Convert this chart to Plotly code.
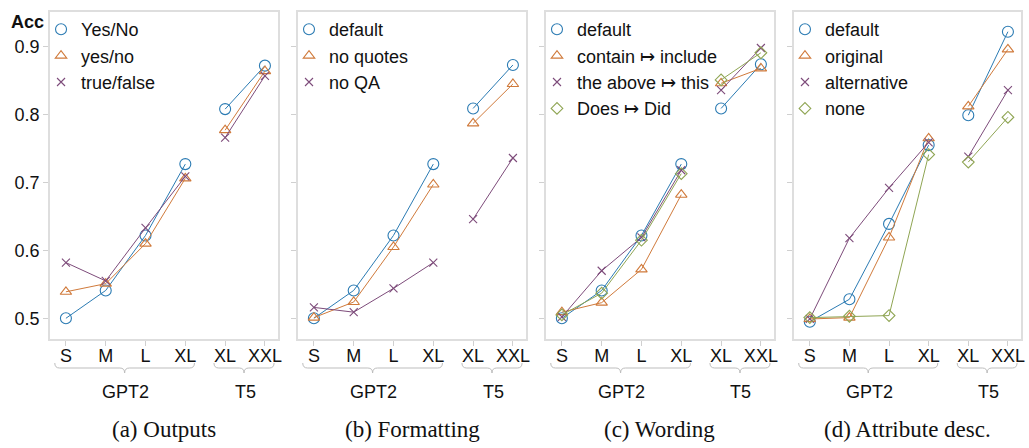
import plotly.graph_objects as go

sizes = ["S", "M", "L", "XL", "XL", "XXL"]
groups = ["GPT2", "GPT2", "GPT2", "GPT2", "T5", "T5"]
captions = ["(a) Outputs", "(b) Formatting", "(c) Wording", "(d) Attribute desc."]

outputs_names = ["Yes/No", "yes/no", "true/false"]
outputs_yes_no_cap = [0.500, 0.541, 0.622, 0.727, 0.808, 0.872]
outputs_yes_no = [0.539, 0.551, 0.610, 0.706, 0.777, 0.864]
outputs_true_false = [0.582, 0.555, 0.633, 0.709, 0.766, 0.857]

formatting_names = ["default", "no quotes", "no QA"]
formatting_default = [0.500, 0.541, 0.622, 0.727, 0.809, 0.873]
formatting_no_quotes = [0.501, 0.524, 0.605, 0.697, 0.787, 0.845]
formatting_no_qa = [0.516, 0.509, 0.544, 0.582, 0.646, 0.736]

wording_names = ["default", "contain \u21a6 include", "the above \u21a6 this", "Does \u21a6 Did"]
wording_default = [0.500, 0.541, 0.622, 0.727, 0.809, 0.874]
wording_contain = [0.509, 0.523, 0.572, 0.682, 0.846, 0.868]
wording_above = [0.502, 0.570, 0.619, 0.718, 0.836, 0.898]
wording_does = [0.505, 0.537, 0.615, 0.713, 0.851, 0.891]

attr_names = ["default", "original", "alternative", "none"]
attr_default = [0.495, 0.528, 0.639, 0.755, 0.799, 0.922]
attr_original = [0.499, 0.501, 0.619, 0.765, 0.812, 0.896]
attr_alternative = [0.499, 0.618, 0.692, 0.759, 0.738, 0.836]
attr_none = [0.501, 0.503, 0.504, 0.741, 0.730, 0.796]

y_ticks = [0.5, 0.6, 0.7, 0.8, 0.9]

panels = [
    (outputs_names, [outputs_yes_no_cap, outputs_yes_no, outputs_true_false]),
    (formatting_names, [formatting_default, formatting_no_quotes, formatting_no_qa]),
    (wording_names, [wording_default, wording_contain, wording_above, wording_does]),
    (attr_names, [attr_default, attr_original, attr_alternative, attr_none]),
]

colors = ["#2b7bb3", "#d07a3b", "#7d4b7a", "#8fa553"]
symbols = ["circle-open", "triangle-up-open", "x-thin-open", "diamond-open"]
msizes = [11, 10, 8, 9]

W, H = 1029, 448
ml, mr, mt, mb = 50, 4, 12, 109
pw = W - ml - mr
ph = H - mt - mb
panel_w = 229
gap = 20

def py(pix):
    return (H - mb - pix) / ph

fig = go.Figure()

xpos = list(range(len(sizes)))
group_names = []
for g in groups:
    if g not in group_names:
        group_names.append(g)

def with_breaks(vals):
    xs, ys = [], []
    for i, v in enumerate(vals):
        if i > 0 and groups[i] != groups[i - 1]:
            xs.append(None)
            ys.append(None)
        xs.append(xpos[i])
        ys.append(v)
    return xs, ys

font_sans = "Liberation Sans, Arial, sans-serif"
font_serif = "Liberation Serif, Times New Roman, serif"

shapes = []
annotations = []
for p, (names, series) in enumerate(panels):
    ax = "" if p == 0 else str(p + 1)
    legend_id = "legend" if p == 0 else "legend%d" % (p + 1)
    for k, (nm, vals) in enumerate(zip(names, series)):
        xs, ys = with_breaks(vals)
        fig.add_trace(go.Scatter(
            x=xs, y=ys, mode="lines", showlegend=False, hoverinfo="skip",
            xaxis="x" + ax, yaxis="y" + ax,
            line=dict(color=colors[k], width=1), connectgaps=False,
        ))
        fig.add_trace(go.Scatter(
            x=xs, y=ys, mode="markers", name=nm,
            xaxis="x" + ax, yaxis="y" + ax, legend=legend_id,
            marker=dict(symbol=symbols[k], size=msizes[k], color=colors[k],
                        line=dict(color=colors[k], width=1.1)),
        ))
    x0 = (p * (panel_w + gap)) / pw
    x1 = min(1.0, (p * (panel_w + gap) + panel_w) / pw)
    fig.update_layout(**{
        "xaxis" + ax: dict(
            domain=[x0, x1], range=[-0.4, 5.33], anchor="y" + ax,
            tickvals=xpos, ticktext=sizes, ticks="outside", ticklen=5,
            tickcolor="#d0d0d0", showline=True, mirror=True, linecolor="#dedede",
            linewidth=1.5, showgrid=False, zeroline=False, ticklabelstandoff=-5,
            tickfont=dict(family=font_sans, size=18, color="#111"),
        ),
        "yaxis" + ax: dict(
            domain=[0, 1], range=[0.4695, 0.951], anchor="x" + ax,
            tickvals=y_ticks, ticks="outside", ticklen=5, tickcolor="#d0d0d0",
            showticklabels=(p == 0), showline=True, mirror=True,
            linecolor="#dedede", linewidth=1.5, showgrid=False, zeroline=False,
            tickfont=dict(family=font_sans, size=18, color="#111"),
        ),
        legend_id: dict(
            x=x0 + (-9) / pw, y=1.0 + 1 / ph, xanchor="left", yanchor="top",
            bgcolor="rgba(0,0,0,0)", font=dict(family=font_sans, size=18, color="#111"),
            itemwidth=30, tracegroupgap=0,
        ),
    })
    for g in group_names:
        idx = [i for i, gg in enumerate(groups) if gg == g]
        a = xpos[idx[0]] - 0.28
        b = xpos[idx[-1]] + 0.23
        c = (a + b) / 2
        yt, ym, yb = py(363), py(368), py(373)
        r = 0.12
        path = (f"M {a},{yt} Q {a},{ym} {a + r},{ym} L {c - r},{ym} "
                f"Q {c},{ym} {c},{yb} Q {c},{ym} {c + r},{ym} "
                f"L {b - r},{ym} Q {b},{ym} {b},{yt}")
        shapes.append(dict(type="path", xref="x" + ax, yref="paper", path=path,
                           line=dict(color="#bdbdbd", width=1)))
        annotations.append(dict(
            x=(xpos[idx[0]] + xpos[idx[-1]]) / 2, y=py(392), xref="x" + ax, yref="paper",
            text=g, showarrow=False, xanchor="center", yanchor="middle",
            font=dict(family=font_sans, size=18, color="#111")))
    annotations.append(dict(
        x=0.5, y=py(429), xref="x" + ax + " domain", yref="paper", text=captions[p],
        showarrow=False, xanchor="center", yanchor="middle",
        font=dict(family=font_serif, size=23, color="#111")))

annotations.append(dict(
    x=(27 - ml) / pw, y=py(22), xref="paper", yref="paper", text="<b>Acc</b>",
    showarrow=False, xanchor="center", yanchor="middle",
    font=dict(family=font_sans, size=18, color="#111")))

fig.update_layout(
    width=W, height=H, margin=dict(l=ml, r=mr, t=mt, b=mb),
    plot_bgcolor="white", paper_bgcolor="white",
    shapes=shapes, annotations=annotations, showlegend=True,
)

fig.write_html("out.html", config={"displayModeBar": False},
               post_script="document.body.style.margin='0';document.body.style.overflow='hidden';")
